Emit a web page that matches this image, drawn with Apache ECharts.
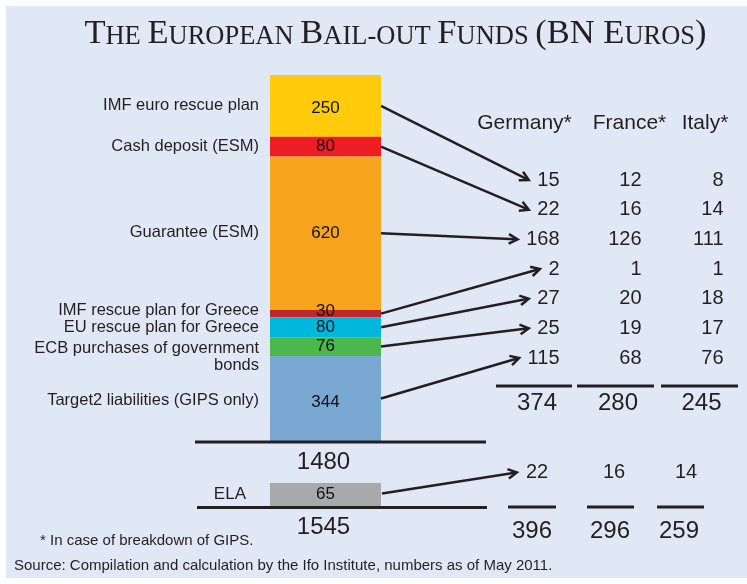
<!DOCTYPE html>
<html>
<head>
<meta charset="utf-8">
<script src="https://cdn.jsdelivr.net/npm/echarts@6/dist/echarts.min.js"></script>
<style>
html, body { margin: 0; padding: 0; background: #fff; }
#chart { width: 747px; height: 584px; }
</style>
</head>
<body>
<div id="chart"></div>
<script>
// components of the bail-out funds, top to bottom (bn euros)
var parts = ['IMF euro rescue plan', 'Cash deposit (ESM)', 'Guarantee (ESM)', 'IMF rescue plan for Greece',
  'EU rescue plan for Greece', 'ECB purchases of government\nbonds', 'Target2 liabilities (GIPS only)'];
var partValues = [250, 80, 620, 30, 80, 76, 344];
var elaName = 'ELA';
var elaValue = 65;
var barTotals = [1480, 1545];

// country shares
var countries = ['Germany*', 'France*', 'Italy*'];
var germany = [15, 22, 168, 2, 27, 25, 115];
var france = [12, 16, 126, 1, 20, 19, 68];
var italy = [8, 14, 111, 1, 18, 17, 76];
var subTotals = [374, 280, 245];
var elaShares = [22, 16, 14];
var grandTotals = [396, 296, 259];

var title = 'THE EUROPEAN BAIL-OUT FUNDS (BN EUROS)';
var footnote = '* In case of breakdown of GIPS.';
var source = 'Source: Compilation and calculation by the Ifo Institute, numbers as of May 2011.';

// styles
var partColors = ['#ffcb0a', '#ee1d24', '#f7a41d', '#bf272e', '#00b7de', '#4cb84b', '#79a9d2'];
var elaColor = '#a8a9ab';
var FONT = '"Liberation Sans", Arial, sans-serif';
var INK = '#231f20';
var valueOffsets = [2, 0, 0, -2, 0, 0, 4];
var nameOffsets = [0, 0, -1, -3, 0, 10, 2];

var BAR_L = 270, BAR_W = 111;

var chart = echarts.init(document.getElementById('chart'));

var series = [];
parts.forEach(function (name, i) {
  series.push({
    name: name, type: 'bar', stack: 'funds', xAxisIndex: 0, yAxisIndex: 0,
    barWidth: '100%', itemStyle: { color: partColors[i] },
    label: { show: true, position: 'inside', color: '#111', fontSize: 17, fontFamily: FONT, offset: [0, valueOffsets[i]] },
    data: [partValues[i]]
  });
});
// same stack again, transparent, only to hang the names on the left
parts.forEach(function (name, i) {
  series.push({
    name: name + ' name', type: 'bar', stack: 'names', xAxisIndex: 0, yAxisIndex: 0,
    barWidth: '100%', barGap: '-100%', silent: true, itemStyle: { color: 'transparent' },
    label: { show: true, position: 'left', distance: 11, formatter: function () { return name; },
      color: INK, fontSize: 16.5, lineHeight: 17, fontFamily: FONT, align: 'right', offset: [0, nameOffsets[i]] },
    data: [partValues[i]]
  });
});
series.push({
  name: elaName, type: 'bar', stack: 'ela', xAxisIndex: 1, yAxisIndex: 1, barWidth: '100%',
  itemStyle: { color: elaColor },
  label: { show: true, position: 'inside', color: '#111', fontSize: 17, fontFamily: FONT },
  data: [elaValue]
});
series.push({
  name: elaName + ' name', type: 'bar', stack: 'elaName', xAxisIndex: 1, yAxisIndex: 1,
  barWidth: '100%', barGap: '-100%', silent: true, itemStyle: { color: 'transparent' },
  label: { show: true, position: 'left', distance: 24, formatter: elaName, color: INK, fontSize: 17, fontFamily: FONT },
  data: [elaValue]
});
[germany, france, italy].forEach(function (col, c) {
  series.push({
    name: countries[c], type: 'scatter', xAxisIndex: 2, yAxisIndex: 2,
    symbolSize: 1, silent: true, itemStyle: { color: 'transparent', opacity: 1 },
    label: { show: true, position: 'left', distance: 0, color: INK, opacity: 1, fontSize: 20, fontFamily: FONT,
      formatter: function (p) { return p.value[2]; } },
    data: col.map(function (v, r) { return [c, r, v]; })
  });
});

var hidden = { show: false };
function axis(o) {
  o.axisLine = hidden; o.axisTick = hidden; o.axisLabel = hidden; o.splitLine = hidden;
  return o;
}
chart.setOption({
  animation: false,
  grid: [
    { left: BAR_L, top: 75, width: BAR_W, height: 366 },
    { left: BAR_L, top: 483, width: BAR_W, height: 23 },
    { left: 560, top: 180, width: 164, height: 178 }
  ],
  xAxis: [
    axis({ gridIndex: 0, type: 'category', data: ['funds'] }),
    axis({ gridIndex: 1, type: 'category', data: ['ela'] }),
    axis({ gridIndex: 2, type: 'value', min: 0, max: 2 })
  ],
  yAxis: [
    axis({ gridIndex: 0, type: 'value', inverse: true, min: 0, max: barTotals[0] }),
    axis({ gridIndex: 1, type: 'value', inverse: true, min: 0, max: elaValue }),
    axis({ gridIndex: 2, type: 'value', inverse: true, min: 0, max: 6 })
  ],
  series: series
});

// measure text to place the arrow tips
var ctx = document.createElement('canvas').getContext('2d');
ctx.font = '20px ' + FONT;
function textW(t) { return ctx.measureText(String(t)).width; }

function arrow(x1, y1, x2, y2) {
  var a = Math.atan2(y2 - y1, x2 - x1), L = 10, s = 0.5;
  var style = { stroke: INK, lineWidth: 2.5, fill: null };
  return [
    { type: 'line', shape: { x1: x1, y1: y1, x2: x2 - Math.cos(a) * 2, y2: y2 - Math.sin(a) * 2 }, style: style, z: 50 },
    { type: 'polyline', shape: { points: [
      [x2 - L * Math.cos(a - s), y2 - L * Math.sin(a - s)], [x2, y2],
      [x2 - L * Math.cos(a + s), y2 - L * Math.sin(a + s)]] }, style: style, z: 50 }
  ];
}
function hline(x1, x2, y) {
  return { type: 'line', shape: { x1: x1, y1: y, x2: x2, y2: y }, style: { stroke: INK, lineWidth: 3 }, z: 40 };
}
function txt(t, x, y, size, align, fam) {
  return { type: 'text', x: x, y: y, z: 60,
    style: { text: String(t), fill: INK, fontSize: size, fontFamily: fam || FONT, align: align || 'center', verticalAlign: 'middle' } };
}

var g = [];
g.push({ type: 'rect', shape: { x: 6, y: 6, width: 741, height: 572 }, style: { fill: '#e1e8f5' }, z: -100 });
g.push({ type: 'text', x: 395.5, y: 33, z: 60, style: {
  text: '{a|T}{b|HE }{a|E}{b|UROPEAN }{a|B}{b|AIL-OUT }{a|F}{b|UNDS }{a|(BN E}{b|UROS}{a|)}',
  align: 'center', verticalAlign: 'middle', fill: INK,
  rich: {
    a: { fontSize: 34.5, fontFamily: '"Liberation Serif", "Times New Roman", serif', fill: INK, verticalAlign: 'bottom', lineHeight: 36 },
    b: { fontSize: 26.5, fontFamily: '"Liberation Serif", "Times New Roman", serif', fill: INK, verticalAlign: 'bottom', lineHeight: 36 }
  } } });

// headers
var headX = [524.5, 629.5, 705];
countries.forEach(function (c, i) { g.push(txt(c, headX[i], 123, 21)); });

// arrows from bar segments to country rows
var cum = 0;
var barRight = BAR_L + BAR_W;
partValues.forEach(function (v, i) {
  var yMid = chart.convertToPixel({ yAxisIndex: 0 }, cum + v / 2);
  cum += v;
  var p = chart.convertToPixel({ gridIndex: 2 }, [0, i]);
  g = g.concat(arrow(barRight, yMid, p[0] - textW(germany[i]) - 9, p[1]));
});

// totals of the bar
g.push(hline(195, 486, 442));
g.push(txt(barTotals[0], 323.5, 462, 24));
g.push(hline(197, 487, 507.5));
g.push(txt(barTotals[1], 323.5, 527, 24));

// country sub totals
var subLines = [[496, 572], [577, 654], [661, 738]];
var subX = [537, 618, 701.5];
var elaX = [537, 614, 686];
var elaLines = [[508, 556], [587, 634], [657, 704]];
var grandX = [532, 610, 679];
countries.forEach(function (c, i) {
  g.push(hline(subLines[i][0], subLines[i][1], 386));
  g.push(txt(subTotals[i], subX[i], 403, 24));
  g.push(txt(elaShares[i], elaX[i], 472.5, 20));
  g.push(hline(elaLines[i][0], elaLines[i][1], 507));
  g.push(txt(grandTotals[i], grandX[i], 531, 24));
});

var elaMid = chart.convertToPixel({ yAxisIndex: 1 }, elaValue / 2) - 1;
g = g.concat(arrow(barRight + 1, elaMid, elaX[0] - textW(elaShares[0]) / 2 - 9, 472.5));

g.push(txt(footnote, 40, 541, 15, 'left'));
g.push(txt(source, 14, 566, 15, 'left'));

chart.setOption({ graphic: g });
</script>
</body>
</html>
